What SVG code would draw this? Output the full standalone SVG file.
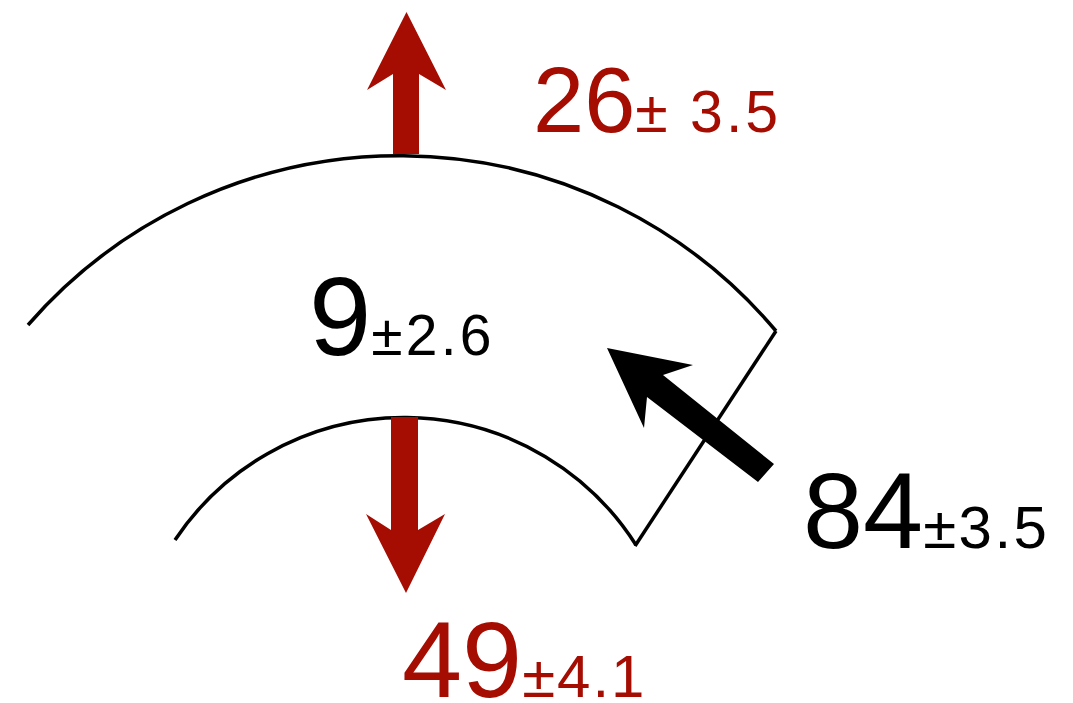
<svg xmlns="http://www.w3.org/2000/svg" width="1073" height="703" viewBox="0 0 1073 703">
<style>
.shape{fill:none;stroke:#000;stroke-width:3.5}
.red{fill:#A50D02}
.blk{fill:#000}
text{font-family:"Liberation Sans",Arial,sans-serif}
</style>
<rect width="1073" height="703" fill="#fff"/>
<g id="segment">
<path class="shape" d="M28,325 A492,492 0 0 1 776,331"/>
<path class="shape" d="M175,540 A275,275 0 0 1 636,545"/>
<path class="shape" d="M776,331 L635,546"/>
</g>
<g id="connectors">
<polygon class="red" points="393,154 393,74 367,90 406.5,12 446,90 419,74 419,154"/>
<polygon class="red" points="391,417 391,530 366,514 406,593 445,514 418,530 418,417"/>
<polygon class="blk" points="774,464 663,375 693,365 607,348 644,428 647,397 758,482"/>
</g>
<g id="label-top">
<text x="533" y="132" class="red" font-size="92">26<tspan font-size="59" letter-spacing="3">± 3.5</tspan></text>
</g>
<g id="label-center">
<text x="309" y="355" class="blk" font-size="112">9<tspan font-size="57" letter-spacing="3.2">±2.6</tspan></text>
</g>
<g id="label-right">
<text x="803" y="548" class="blk" font-size="108">84<tspan font-size="60" letter-spacing="2.5">±3.5</tspan></text>
</g>
<g id="label-bottom">
<text x="402" y="697" class="red" font-size="108">49<tspan font-size="60" letter-spacing="2">±4.1</tspan></text>
</g>
</svg>
